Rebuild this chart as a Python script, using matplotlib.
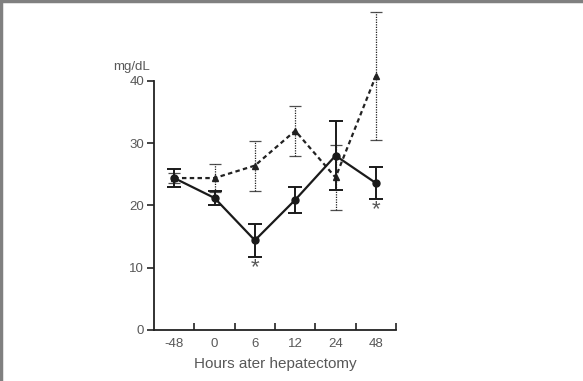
import matplotlib.pyplot as plt
from matplotlib.lines import Line2D

hours = ['-48', '0', '6', '12', '24', '48']

# solid line, circles
solid_mean = [24.4, 21.2, 14.4, 20.9, 28.0, 23.6]
solid_err = [1.4, 1.1, 2.6, 2.1, 5.5, 2.5]

# dashed line, triangles
dash_mean = [24.4, 24.4, 26.4, 32.0, 24.5, 40.8]
dash_err = [0.8, 2.3, 4.0, 4.0, 5.2, 10.3]

# significance marks
star_idx = [2, 5]
star_y = [10.0, 19.4]

plt.rcParams['font.family'] = ['Liberation Sans', 'DejaVu Sans']
txt = '#585858'

fig = plt.figure(figsize=(5.83, 3.81), dpi=100)
ax = fig.add_axes([0.2642, 0.1339, 0.4151, 0.8661])

x = [i + 0.5 for i in range(len(hours))]

eb = ax.errorbar(x, dash_mean, yerr=dash_err, color='#222222', lw=1.6,
                 ls=(0, (2, 1.5)), marker='^', ms=4.5, capsize=4,
                 elinewidth=0.9, capthick=0.9, zorder=2)
for line in eb[2]:
    line.set_linestyle((0, (1, 1)))
for cap in eb[1]:
    cap.set_alpha(0.8)

ax.errorbar(x, solid_mean, yerr=solid_err, color='#1a1a1a', lw=1.6,
            marker='o', ms=5, capsize=5, elinewidth=1.4, capthick=1.4,
            zorder=3)

for i, yv in zip(star_idx, star_y):
    ax.text(x[i], yv, '*', ha='center', va='center', fontsize=16,
            color=txt)

ax.set_xlim(0, 6)
ax.set_ylim(0, 53)
ax.set_xticks([1, 2, 3, 4, 5, 6])
ax.set_xticklabels([])
ax.set_xticks(x, minor=True)
ax.set_xticklabels(hours, minor=True)
ax.tick_params(axis='x', which='major', direction='in', length=5,
               width=1.2, color='#222222')
ax.tick_params(axis='x', which='minor', length=0, labelsize=9.5,
               labelcolor=txt, pad=6)
ax.set_yticks([0, 10, 20, 30, 40])
ax.tick_params(axis='y', direction='out', length=5, width=1.2,
               color='#222222', labelsize=9.5, labelcolor=txt, pad=2)

for s in ['top', 'right']:
    ax.spines[s].set_visible(False)
ax.spines['left'].set_bounds(0, 40)
ax.spines['left'].set_linewidth(1.3)
ax.spines['bottom'].set_linewidth(1.3)
ax.spines['left'].set_color('#222222')
ax.spines['bottom'].set_color('#222222')

ax.set_xlabel('Hours ater hepatectomy', fontsize=11, color=txt, labelpad=5)
fig.text(113 / 583, 1 - 67 / 381, 'mg/dL', fontsize=9.5, color=txt,
         ha='left', va='center')

# grey frame on top and left edges
fig.add_artist(Line2D([0, 1], [0.997, 0.997], color='#808080', lw=2.5,
                      transform=fig.transFigure))
fig.add_artist(Line2D([0.002, 0.002], [0, 1], color='#808080', lw=2.5,
                      transform=fig.transFigure))

plt.savefig('out.png', dpi=100)
